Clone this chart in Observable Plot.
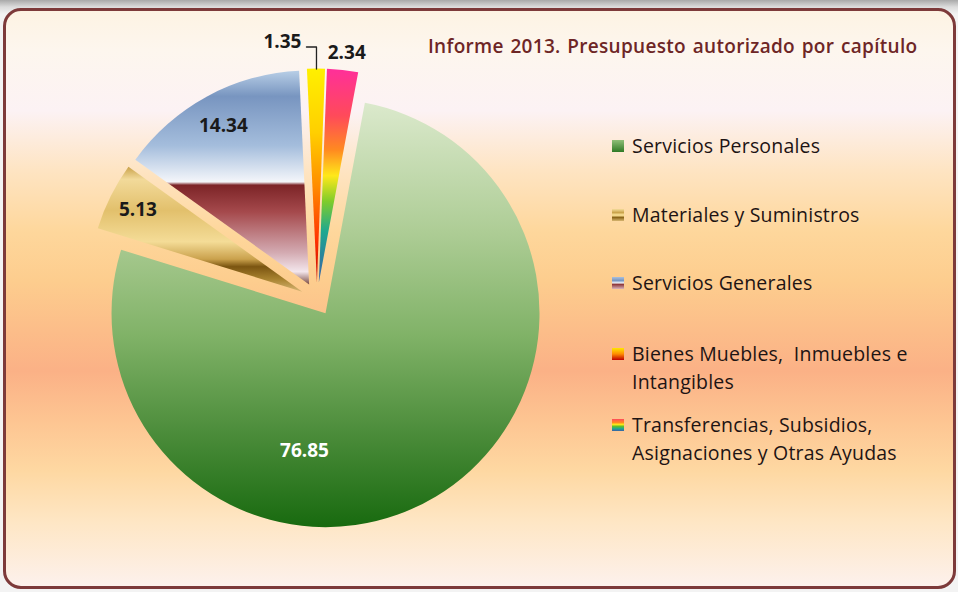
<!DOCTYPE html>
<html>
<head>
<meta charset="utf-8">
<script src="https://cdn.jsdelivr.net/npm/d3@7"></script>
<script src="https://cdn.jsdelivr.net/npm/@observablehq/plot@0.6"></script>
<style>
  html, body { margin: 0; padding: 0; background: #f2f2f2; }
  #wrap { position: relative; width: 958px; height: 592px; overflow: hidden;
    background: linear-gradient(#a9a9a9 0px, #dcdcdc 7px, #f3f3f3 14px, #f3f3f3 100%); }
  #frame { position: absolute; left: 3px; top: 8px; width: 947px; height: 575px;
    border: 3px solid #7d3a3a; border-radius: 18px;
    background: linear-gradient(#fdf3e3 0px, #fdf6ee 40px, #fcf2f4 100px, #fee4c2 160px, #fed79c 220px,
      #fdcd8e 270px, #fcbd89 320px, #fbb186 360px, #fdc592 410px, #fed8a2 460px, #fee6c4 510px, #fdf1ec 575px); }
  #chart { position: absolute; left: 0; top: 0; }
  #title { position: absolute; left: 428px; top: 32px; font-family: "Open Sans", sans-serif; font-weight: 600;
    font-size: 19px; letter-spacing: 0.3px; word-spacing: 1.5px; color: #6e2626; white-space: nowrap; line-height: 28px; }
  .item { position: absolute; left: 632px; font-family: "Open Sans", sans-serif; font-size: 19.5px; letter-spacing: 0.2px;
    color: #1e1414; line-height: 28px; white-space: nowrap; }
  .icon { position: absolute; left: 612px; width: 12px; height: 12px; }
</style>
</head>
<body>
<div id="wrap">
  <div id="frame"></div>
  <div id="chart"></div>
  <div id="title"></div>
  <div id="legend"></div>
</div>
<script>
// ---- data ----
const categories = [
  "Servicios Personales",
  "Materiales y Suministros",
  "Servicios Generales",
  "Bienes Muebles,  Inmuebles e Intangibles",
  "Transferencias, Subsidios, Asignaciones y Otras Ayudas"
];
const values = [76.85, 5.13, 14.34, 1.35, 2.34];
const valueLabels = ["76.85", "5.13", "14.34", "1.35", "2.34"];
const legendLines = [
  ["Servicios Personales"],
  ["Materiales y Suministros"],
  ["Servicios Generales"],
  ["Bienes Muebles,\u00a0 Inmuebles e", "Intangibles"],
  ["Transferencias, Subsidios,", "Asignaciones y Otras Ayudas"]
];
const titleText = "Informe 2013. Presupuesto autorizado por capítulo";

// ---- styles / layout ----
const gradients = [
  [[0, "#dbe9cc"], [0.3, "#aecd96"], [0.55, "#80b267"], [0.78, "#4b8c3a"], [1, "#186a0f"]],
  [[0, "#c9a24a"], [0.1, "#f2da9a"], [0.35, "#e2c06c"], [0.6, "#f4dc97"], [0.74, "#caa14c"], [0.8, "#7b5511"], [0.9, "#a8822f"], [1, "#d6b574"]],
  [[0, "#b8cee6"], [0.12, "#7895c0"], [0.35, "#a4bddc"], [0.52, "#f4f6fa"], [0.535, "#7c2427"], [0.66, "#a5494c"], [0.85, "#d3aab1"], [0.94, "#f3e6ec"], [1, "#7a4a40"]],
  [[0, "#fff000"], [0.3, "#ffcf00"], [0.55, "#ff8c00"], [0.8, "#ff3300"], [1, "#c00000"]],
  [[0, "#ff2f9a"], [0.22, "#ff4a5a"], [0.38, "#ff8a20"], [0.5, "#ffe81a"], [0.62, "#7fcc2a"], [0.76, "#1ea890"], [1, "#3a5fa8"]]
];
const iconCss = [
  "linear-gradient(#8fbf77,#2f7a25)",
  "linear-gradient(#f4dc9a 0,#c9a24a 30%,#f2d68a 45%,#f2d68a 55%,#8a6418 70%,#d8b670 100%)",
  "linear-gradient(#a9c0de 0,#7895c0 30%,#f4f6fa 50%,#8c3336 60%,#d9b4bb 100%)",
  "linear-gradient(#ffe600,#ff8c00 50%,#c00000)",
  "linear-gradient(#ff4a5a 0,#ff8a20 30%,#ffe81a 45%,#5fbf2a 62%,#1ea890 80%,#3a5fa8)"
];
const legendTop = [146, 215, 283, 354, 425];   // centre of first line (px)
const W = 958, H = 592, cx = 317, cy = 299, R = 214;
const startDeg = 10.6;
const explode = 16.5 / R;
// label placement: angle turn from slice bisector (deg) and distance from apex (in radii)
const labelPlace = [
  {turn: 40, k: 0.65, color: "#ffffff"},
  {turn: 0, k: 0.86, color: "#1a1a1a"},
  {turn: 0, k: 0.845, color: "#1a1a1a"},
  {turn: -8, k: 1.138, color: "#1a1a1a"},
  {turn: 0.4, k: 1.083, color: "#1a1a1a"}
];

// ---- derived ----
const rad = Math.PI / 180;
const arcs = d3.pie().sort(null)
  .startAngle(startDeg * rad).endAngle(startDeg * rad + 2 * Math.PI)(values);
const slices = arcs.map((a, i) => {
  const mid = (a.startAngle + a.endAngle) / 2;
  return {i, cat: categories[i], value: values[i], arc: a, mid,
    ox: Math.sin(mid) * explode, oy: Math.cos(mid) * explode};
});
const labels = slices.map((s, i) => {
  const p = labelPlace[i];
  const ang = s.mid + p.turn * rad;
  return {text: valueLabels[i], color: p.color,
    x: s.ox + Math.sin(ang) * p.k, y: s.oy + Math.cos(ang) * p.k};
});
// leader line for the 1.35 label (Bienes)
const sb = slices[3], lb = labels[3];
const ax = sb.ox + Math.sin(sb.mid), ay = sb.oy + Math.cos(sb.mid);
const leader = [
  {x: ax, y: ay},
  {x: ax, y: lb.y - 5 / R},
  {x: lb.x + 24 / R, y: lb.y - 5 / R}
];

function sliceMark(index, scales) {
  const {x, y} = scales;
  const g = d3.create("svg:g");
  const defs = g.append("defs");
  gradients.forEach((stops, i) => {
    const lg = defs.append("linearGradient").attr("id", "sg" + i)
      .attr("x1", 0).attr("y1", 0).attr("x2", 0).attr("y2", 1);
    stops.forEach(([o, c]) => lg.append("stop").attr("offset", o).attr("stop-color", c));
  });
  const rpx = x(1) - x(0);
  const arcGen = d3.arc().innerRadius(0).outerRadius(rpx);
  slices.forEach((s) => {
    g.append("path")
      .attr("transform", `translate(${x(s.ox)},${y(s.oy)})`)
      .attr("d", arcGen(s.arc))
      .attr("fill", `url(#sg${s.i})`);
  });
  return g.node();
}

const plot = Plot.plot({
  width: W, height: H, margin: 0,
  x: {domain: [-1, 1], range: [cx - R, cx + R], axis: null},
  y: {domain: [-1, 1], range: [cy + R, cy - R], axis: null},
  style: {background: "transparent", overflow: "visible"},
  marks: [
    sliceMark,
    Plot.line(leader, {x: "x", y: "y", stroke: "#222", strokeWidth: 1.3}),
    Plot.text(labels.filter(d => d.color === "#ffffff"), {x: "x", y: "y", text: "text", fill: "#ffffff",
      fontSize: 19, fontWeight: "bold", fontFamily: "Open Sans"}),
    Plot.text(labels.filter(d => d.color !== "#ffffff"), {x: "x", y: "y", text: "text", fill: "#1a1a1a",
      fontSize: 19, fontWeight: "bold", fontFamily: "Open Sans"})
  ]
});
document.getElementById("chart").appendChild(plot);

document.getElementById("title").textContent = titleText;
const legend = document.getElementById("legend");
legendLines.forEach((lines, i) => {
  const ic = document.createElement("div");
  ic.className = "icon";
  ic.style.top = (legendTop[i] - 6) + "px";
  ic.style.background = iconCss[i];
  legend.appendChild(ic);
  const t = document.createElement("div");
  t.className = "item";
  t.style.top = (legendTop[i] - 14) + "px";
  t.innerHTML = lines.join("<br>");
  legend.appendChild(t);
});
</script>
</body>
</html>
